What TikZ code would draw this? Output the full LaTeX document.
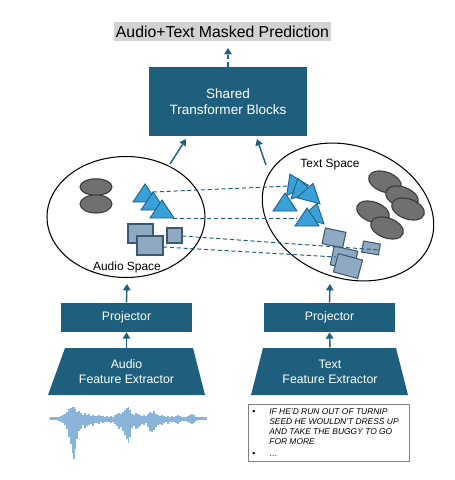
\documentclass[tikz,border=0pt]{standalone}
\usepackage{fontspec}
\setmainfont{Liberation Sans}
\usetikzlibrary{shapes.geometric,arrows.meta}
\definecolor{teal1}{HTML}{1E5F7E}
\definecolor{triblue}{HTML}{3AA0D8}
\definecolor{tribord}{HTML}{1F5F8A}
\definecolor{sqfill}{HTML}{8FA9C2}
\definecolor{sqbord}{HTML}{3A5A70}
\definecolor{gfill}{HTML}{707070}
\definecolor{gbord}{HTML}{3A3A3A}
\definecolor{wavec}{HTML}{8AB4D8}
\definecolor{titlegray}{HTML}{D2D2D2}
\newcommand\mytri[3]{\filldraw[tristyle, rotate around={#3:(#1,#2)}] (#1-12,#2+6) -- (#1,#2-12) -- (#1+12,#2+6) -- cycle;}
\begin{document}
\begin{tikzpicture}[x=0.02cm,y=-0.02cm,
  box/.style={fill=teal1, text=white, inner sep=0, align=center},
  arr/.style={draw=teal1, line width=0.8pt, -{Triangle[width=4.2pt,length=3.6pt]}},
  dline/.style={draw=teal1, line width=0.55pt, dash pattern=on 2.4pt off 1.5pt},
  tristyle/.style={fill=triblue, draw=tribord, line width=0.5pt},
  sq/.style={rectangle, fill=sqfill, draw=sqbord, line width=0.6pt, inner sep=0},
  gell/.style={ellipse, fill=gfill, draw=gbord, line width=0.6pt, inner sep=0},
  spc/.style={ellipse, draw=black, line width=0.6pt, inner sep=0},
  lbl/.style={font=\fontsize{6.8}{8}\selectfont, inner sep=0}
]
\useasboundingbox (0,0) rectangle (455,480);

% title
\node[fill=titlegray, inner xsep=1pt, inner ysep=0, minimum height=0.38cm,
      font=\fontsize{9}{10}\selectfont] (title) at (222.5,31.5) {Audio+Text Masked Prediction};

% shared transformer
\node[box, minimum width=3.16cm, minimum height=1.38cm, font=\fontsize{7.7}{9}\selectfont]
  (tb) at (228,101.5) {Shared\\Transformer Blocks};
\coordinate (ttop) at (228,48);
\draw[arr, dash pattern=on 2.5pt off 1.8pt] (tb.north) -- (ttop);

% spaces
\node[spc, minimum width=3.16cm, minimum height=2.42cm] (lell) at (126,217) {};
\node[spc, minimum width=3.52cm, minimum height=2.64cm, rotate=-20] (rell) at (348,212) {};

\coordinate (la0) at (170,164); \coordinate (la1) at (186,139);
\coordinate (ra0) at (266,165); \coordinate (ra1) at (257,139);
\draw[arr] (la0) -- (la1);
\draw[arr] (ra0) -- (ra1);

% audio space contents
\node[gell, minimum width=0.64cm, minimum height=0.33cm] (ag1) at (96,187) {};
\node[gell, minimum width=0.64cm, minimum height=0.36cm] (ag2) at (96,204) {};
\mytri{145}{196}{0}
\mytri{153}{204}{0}
\mytri{162}{212}{0}
\node[sq, minimum width=0.5cm, minimum height=0.38cm] (as1) at (140.5,233.5) {};
\node[sq, minimum width=0.52cm, minimum height=0.38cm] (as2) at (150,245.5) {};
\node[sq, minimum width=0.3cm, minimum height=0.3cm] (as3) at (174.5,235.5) {};
\node[lbl] (alab) at (127,267) {Audio Space};

% text space contents
\node[lbl] (tlab) at (330,165) {Text Space};
\mytri{295}{185}{25}
\mytri{301}{190}{15}
\mytri{310}{195}{-15}
\mytri{285}{205}{0}
\mytri{314}{215}{-15}
\mytri{307}{220}{0}
\node[gell, minimum width=0.68cm, minimum height=0.4cm, rotate=-20] (tg1) at (385,182) {};
\node[gell, minimum width=0.68cm, minimum height=0.4cm, rotate=-20] (tg2) at (402,197) {};
\node[gell, minimum width=0.68cm, minimum height=0.4cm, rotate=-20] (tg3) at (408,209) {};
\node[gell, minimum width=0.68cm, minimum height=0.4cm, rotate=-20] (tg4) at (373,212) {};
\node[gell, minimum width=0.68cm, minimum height=0.4cm, rotate=-20] (tg5) at (387,228) {};
\node[sq, minimum width=0.42cm, minimum height=0.32cm, rotate=-12] (ts1) at (334,238) {};
\node[sq, minimum width=0.48cm, minimum height=0.38cm, rotate=-12] (ts2) at (344,258) {};
\node[sq, minimum width=0.5cm, minimum height=0.38cm, rotate=-15] (ts3) at (348,266) {};
\node[sq, minimum width=0.34cm, minimum height=0.22cm, rotate=-10] (ts4) at (371,248) {};

% dashed correspondences
\coordinate (d1a) at (153,192); \coordinate (d1b) at (290,186);
\coordinate (d2a) at (173,218.6); \coordinate (d2b) at (297,218.6);
\coordinate (d3a) at (182,236); \coordinate (d3b) at (380,250);
\coordinate (d4a) at (163,247); \coordinate (d4b) at (336,257);
\draw[dline] (d1a) -- (d1b);
\draw[dline] (d2a) -- (d2b);
\draw[dline] (d3a) -- (d3b);
\draw[dline] (d4a) -- (d4b);

% projectors
\node[box, minimum width=2.62cm, minimum height=0.58cm, font=\fontsize{7}{8.5}\selectfont] (aproj) at (126.5,317.5) {Projector};
\node[box, minimum width=2.62cm, minimum height=0.58cm, font=\fontsize{7}{8.5}\selectfont] (tproj) at (329.5,317.5) {Projector};
\coordinate (la2) at (127,284);
\coordinate (ra2) at (330,284);
\draw[arr] (aproj.north) -- (la2);
\draw[arr] (tproj.north) -- (ra2);

% extractors
\fill[teal1] (65,348) -- (193,348) -- (205,395) -- (48,395) -- cycle;
\fill[teal1] (263,348) -- (396,348) -- (408,395) -- (251,395) -- cycle;
\node[inner sep=0, text=white, align=center, minimum width=2.56cm, minimum height=0.94cm,
      font=\fontsize{7}{8.5}\selectfont] (aext) at (126.5,371.5) {Audio\\Feature Extractor};
\node[inner sep=0, text=white, align=center, minimum width=2.66cm, minimum height=0.94cm,
      font=\fontsize{7}{8.5}\selectfont] (text) at (330,371.5) {Text\\Feature Extractor};
\draw[arr] (aext.north) -- (aproj.south);
\draw[arr] (text.north) -- (tproj.south);

% waveform
\draw[wavec, line width=1.2pt] (50,418.5) -- (207,418.5);
\foreach \x/\u/\d in {50/0.5/0.5, 53/1/1, 56/1.5/1.5, 59/2/2, 61/3/3, 63/4/4, 65/5/6, 67/7/10,
  69/10/18, 71/11/25, 72.5/12/34, 74/12/40, 75.5/10/30, 77/7/20, 79/8/12, 81/6/10, 83/4/6,
  85/6/9, 87/4/7, 89/5/6, 91/3/5, 93/4/7, 95/3/4, 97/3/4, 99/4/5, 101/3/3, 103/3/4, 105/2/3,
  107/3/3, 109/2/3, 111/3/4, 113/2/3, 115/4/5, 117/5/7, 119/6/10, 121/5/8, 123/7/12, 125/9/16,
  127/11/20, 128.5/12/24, 130/9/18, 132/5/9, 134/4/7, 136/6/10, 138/5/9, 140/4/7, 142/3/5,
  144/4/6, 146/3/4, 148/5/8, 150/7/12, 152/6/13, 154/8/11, 156/5/8, 158/4/6, 160/3/5, 162/4/6,
  164/3/4, 166/2/3, 168/3/5, 170/2/3, 172/3/3, 174/2/3, 176/3/4, 178/4/5, 180/3/3, 182/2/2,
  184/2/2, 186/2/2, 188/3/3, 190/4/4, 192/5/5, 194/4/4, 196/2/2, 199/1/1, 202/1/1, 205/0.5/0.5}
  \draw[wavec, line width=0.85pt] (\x,{418.5-\u}) -- (\x,{418.5+\d});

% text box
\node[draw=gray, line width=0.6pt, anchor=north west, minimum width=3.22cm, minimum height=1.14cm, inner sep=0] (tbox) at (248,404) {};
\node[anchor=north west, inner sep=0, font=\fontsize{4.8}{5.67}\selectfont\itshape] (ttext) at (252,407)
{\begin{tabular}{@{}p{0.34cm}@{}l@{}}
{\upshape\tiny\textbullet} & IF HE'D RUN OUT OF TURNIP\\
 & SEED HE WOULDN'T DRESS UP\\
 & AND TAKE THE BUGGY TO GO\\
 & FOR MORE\\[1.5pt]
{\upshape\tiny\textbullet} & \ldots
\end{tabular}};
\end{tikzpicture}
\end{document}
